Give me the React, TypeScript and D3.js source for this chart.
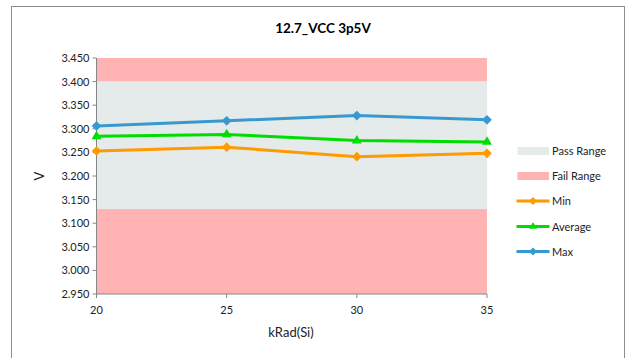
import React from "react";
import * as d3 from "d3";

const title = "12.7_VCC 3p5V";
const xValues = [20, 25, 30, 35];
const xTicks = [20, 25, 30, 35];
const yTicks = [2.95, 3.0, 3.05, 3.1, 3.15, 3.2, 3.25, 3.3, 3.35, 3.4, 3.45];
const passRange = [3.13, 3.4];
const yDomain = [2.95, 3.45];
const minValues = [3.253, 3.261, 3.241, 3.248];
const avgValues = [3.284, 3.288, 3.275, 3.272];
const maxValues = [3.306, 3.317, 3.328, 3.319];

const W = 627, H = 358;
const PL = 96.5, PR = 487, PT = 58, PB = 294;

export default function App() {
  const x = d3.scaleLinear().domain([20, 35]).range([PL, PR]);
  const y = d3.scaleLinear().domain(yDomain).range([PB, PT]);
  const line = d3.line<number>().x((_, i) => x(xValues[i])).y((d) => y(d));
  const font = "Lato, 'Open Sans', sans-serif";
  const series = [
    { name: "Min", values: minValues, color: "#ff9a00", marker: "diamond" },
    { name: "Average", values: avgValues, color: "#00dd00", marker: "triangle" },
    { name: "Max", values: maxValues, color: "#3899cf", marker: "diamond" },
  ];
  const diamond = d3.symbol(d3.symbolDiamond2, 60)();
  const triangle = d3.symbol(d3.symbolTriangle2, 70)();
  const axisColor = "#868686";
  const legendX = 517.5;
  const legendYs = [151, 176, 201, 226.5, 251.5];
  return (
    <svg width={W} height={H} style={{ position: "absolute", left: 0, top: 0 }}>
      <rect x={0} y={0} width={W} height={H} fill="#fff" />
      <rect x={11.5} y={6.5} width={613} height={380} fill="#fff" stroke="#8c8c8c" strokeWidth={1} />
      <text x={323} y={33} textAnchor="middle" fontFamily={font} fontWeight="bold" fontSize={13.5} fill="#000">{title}</text>
      {/* bands */}
      <rect x={PL} y={y(yDomain[1])} width={PR - PL} height={y(passRange[1]) - y(yDomain[1])} fill="#ffb3b3" />
      <rect x={PL} y={y(passRange[1])} width={PR - PL} height={y(passRange[0]) - y(passRange[1])} fill="#e5ebeb" />
      <rect x={PL} y={y(passRange[0])} width={PR - PL} height={y(yDomain[0]) - y(passRange[0])} fill="#ffb3b3" />
      {/* axes */}
      <line x1={PL} x2={PL} y1={PT} y2={PB} stroke={axisColor} />
      <line x1={PL} x2={PR} y1={PB} y2={PB} stroke={axisColor} />
      {yTicks.map((t) => (
        <g key={t}>
          <line x1={PL - 4} x2={PL} y1={y(t)} y2={y(t)} stroke={axisColor} />
          <text x={PL - 7} y={y(t) + 4} textAnchor="end" fontFamily={font} fontSize={11} fill="#222">{t.toFixed(3)}</text>
        </g>
      ))}
      {xTicks.map((t) => (
        <g key={t}>
          <line x1={x(t)} x2={x(t)} y1={PB} y2={PB + 4} stroke={axisColor} />
          <text x={x(t)} y={PB + 20} textAnchor="middle" fontFamily={font} fontSize={11} fill="#222">{t}</text>
        </g>
      ))}
      <text x={291} y={337} textAnchor="middle" fontFamily={font} fontSize={13} fill="#222">kRad(Si)</text>
      <text transform={`translate(44,176) rotate(-90)`} textAnchor="middle" fontFamily={font} fontSize={13} fill="#222">V</text>
      {/* series */}
      {series.map((s) => (
        <g key={s.name}>
          <path d={line(s.values) || ""} fill="none" stroke={s.color} strokeWidth={3} strokeLinejoin="round" />
          {s.values.map((v, i) => (
            <path key={i} d={s.marker === "diamond" ? diamond! : triangle!} transform={`translate(${x(xValues[i])},${y(v)})`} fill={s.color} />
          ))}
        </g>
      ))}
      {/* legend */}
      <rect x={legendX} y={legendYs[0] - 4} width={31.5} height={8} fill="#e5ebeb" />
      <text x={552} y={legendYs[0] + 4} fontFamily={font} fontSize={11} fill="#222">Pass Range</text>
      <rect x={legendX} y={legendYs[1] - 4} width={31.5} height={8} fill="#ffb3b3" />
      <text x={552} y={legendYs[1] + 4} fontFamily={font} fontSize={11} fill="#222">Fail Range</text>
      {series.map((s, i) => (
        <g key={s.name}>
          <line x1={legendX - 1} x2={legendX + 32} y1={legendYs[2 + i]} y2={legendYs[2 + i]} stroke={s.color} strokeWidth={3} />
          <path d={s.marker === "diamond" ? d3.symbol(d3.symbolDiamond2, 40)()! : d3.symbol(d3.symbolTriangle2, 45)()!} transform={`translate(${legendX + 15.5},${legendYs[2 + i]})`} fill={s.color} />
          <text x={552} y={legendYs[2 + i] + 4} fontFamily={font} fontSize={11} fill="#222">{s.name}</text>
        </g>
      ))}
    </svg>
  );
}
